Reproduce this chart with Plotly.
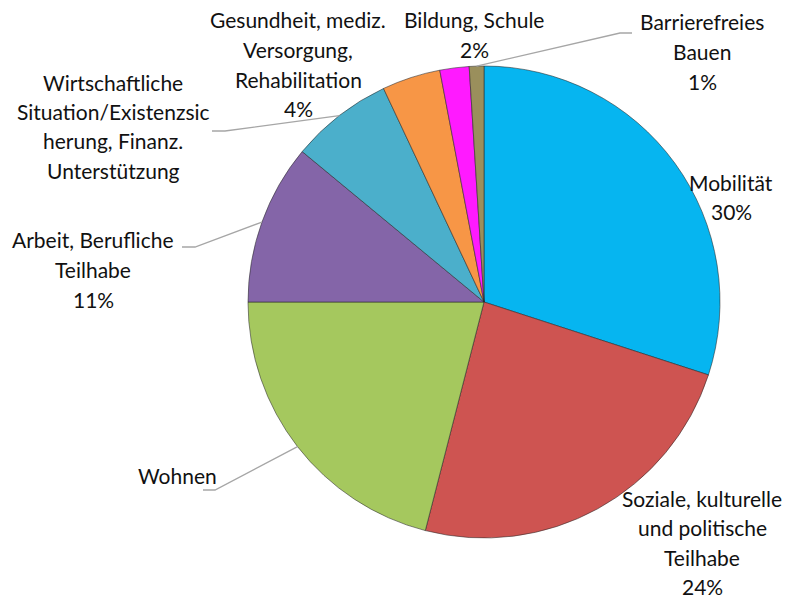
import math
import plotly.graph_objects as go

# ---- data ----
categories = [
    "Mobilität",
    "Soziale, kulturelle und politische Teilhabe",
    "Wohnen",
    "Arbeit, Berufliche Teilhabe",
    "Wirtschaftliche Situation/Existenzsicherung, Finanz. Unterstützung",
    "Gesundheit, mediz. Versorgung, Rehabilitation",
    "Bildung, Schule",
    "Barrierefreies Bauen",
]
values = [30, 24, 21, 11, 7, 4, 2, 1]
label_lines = [
    ["Mobilität", "30%"],
    ["Soziale, kulturelle", "und politische", "Teilhabe", "24%"],
    ["Wohnen"],
    ["Arbeit, Berufliche", "Teilhabe", "11%"],
    ["Wirtschaftliche", "Situation/Existenzsic", "herung, Finanz.", "Unterstützung"],
    ["Gesundheit, mediz.", "Versorgung,", "Rehabilitation", "4%"],
    ["Bildung, Schule", "2%"],
    ["Barrierefreies", "Bauen", "1%"],
]
colors = ["#06B5F0", "#CE5451", "#A5C85E", "#8465A8", "#4BAFCB", "#F79646", "#FF1AFF", "#9A8F5C"]

# ---- layout / style (pixels) ----
W, H = 790, 598
CX, CY, R = 484, 302, 236
label_pos = [
    (731, 182), (702, 498), (177, 475), (93, 240),
    (113, 82), (298, 20), (474, 20), (702, 22),
]
leaders = [None, None, (215, 490, 203), (195, 247, 182), (225, 131, 212), None, None, (620, 33, 632)]
LINE_GAP = 29.5
FONT = "Lato"
FSIZE = 21

fig = go.Figure()
fig.add_trace(go.Pie(
    labels=categories, values=values, sort=False, direction="clockwise", rotation=0,
    marker=dict(colors=colors, line=dict(color="rgba(40,40,40,0.55)", width=1)),
    textinfo="none", hoverinfo="label+percent", showlegend=False,
    domain=dict(x=[(CX - R) / W, (CX + R) / W], y=[(H - CY - R) / H, (H - CY + R) / H]),
))

total = sum(values)
cum = 0
shapes = []
annotations = []
for i, v in enumerate(values):
    mid = (cum + v / 2) / total * 2 * math.pi
    cum += v
    px = CX + R * math.sin(mid)
    py = CY - R * math.cos(mid)
    if leaders[i] is not None:
        ex, ey, endx = leaders[i]
        path = f"M {px/W},{1-py/H} L {ex/W},{1-ey/H} L {endx/W},{1-ey/H}"
        shapes.append(dict(type="path", xref="paper", yref="paper", path=path,
                           line=dict(color="#A6A6A6", width=1.3)))
    lx, ly = label_pos[i]
    for j, t in enumerate(label_lines[i]):
        annotations.append(dict(
            x=lx / W, y=1 - (ly + j * LINE_GAP) / H, xref="paper", yref="paper",
            text=t, showarrow=False, xanchor="center", yanchor="middle",
            font=dict(family=FONT, size=FSIZE, color="#111111"),
        ))

fig.update_layout(
    width=W, height=H, margin=dict(l=0, r=0, t=0, b=0),
    paper_bgcolor="white", plot_bgcolor="white",
    shapes=shapes, annotations=annotations,
)
fig.write_html("out.html", config={"displayModeBar": False},
               post_script="document.body.style.margin='0';document.body.style.padding='0';")
